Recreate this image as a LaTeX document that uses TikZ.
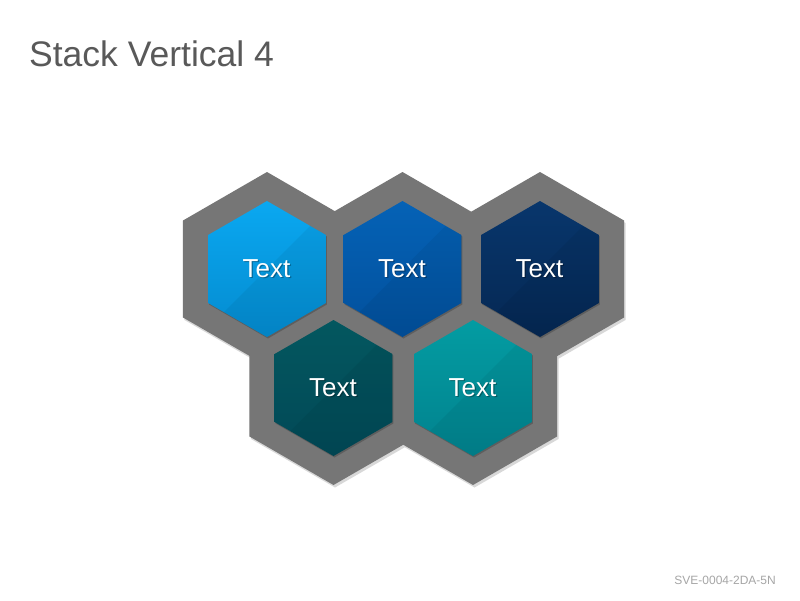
\documentclass[tikz,border=0pt]{standalone}
\usepackage{fontspec}
\setmainfont{Liberation Sans}
\usetikzlibrary{calc}
\definecolor{titlegray}{HTML}{595959}
\definecolor{footgray}{HTML}{A6A6A6}
\definecolor{framegray}{HTML}{767676}
\definecolor{frameshadow}{HTML}{D8D8D8}
\definecolor{innershadow}{HTML}{5E5E5E}
\definecolor{hAt}{HTML}{0AA8F1}\definecolor{hAb}{HTML}{048BCF}
\definecolor{hBt}{HTML}{0562B6}\definecolor{hBb}{HTML}{02509C}
\definecolor{hCt}{HTML}{08366C}\definecolor{hCb}{HTML}{052853}
\definecolor{hDt}{HTML}{03575F}\definecolor{hDb}{HTML}{024957}
\definecolor{hEt}{HTML}{039CA2}\definecolor{hEb}{HTML}{02828E}
\newcommand{\hexat}[3]{([shift={(#1,#2)}]90:#3) -- ([shift={(#1,#2)}]30:#3) -- ([shift={(#1,#2)}]-30:#3) -- ([shift={(#1,#2)}]-90:#3) -- ([shift={(#1,#2)}]-150:#3) -- ([shift={(#1,#2)}]150:#3) -- cycle}
\tikzset{
  hexlabel/.style={text=white, font=\fontsize{26}{30}\selectfont, inner sep=0pt},
  hexlabelshadow/.style={text=black, opacity=0.3, font=\fontsize{26}{30}\selectfont, inner sep=0pt},
}
\newcommand{\innerhex}[4]{%
  \fill[innershadow] \hexat{#1+1}{#2+1.5}{68};
  \shade[top color=#3, bottom color=#4] \hexat{#1}{#2}{68};
  \begin{scope}
    \clip \hexat{#1}{#2}{68};
    \fill[black, opacity=0.05] (#1-80,#2+80) -- (#1+80,#2-80) -- (#1+80,#2+80) -- cycle;
  \end{scope}
}
\begin{document}
\begin{tikzpicture}[x=1pt,y=-1pt]
\useasboundingbox (0,0) rectangle (800,600);
\fill[white] (0,0) rectangle (800,600);
% title and footer
\node[anchor=base west, text=titlegray, font=\fontsize{35.5}{40}\selectfont, inner sep=0pt] (title) at (29,66) {Stack Vertical 4};
\node[anchor=base east, text=footgray, font=\fontsize{12}{14}\selectfont, inner sep=0pt] (code) at (776,584) {SVE-0004-2DA-5N};
% frame shadow
\foreach \cx/\cy in {267/269, 402.5/269, 540/269, 333.5/388, 473/388}{
  \fill[frameshadow] \hexat{\cx+1.5}{\cy+2.5}{97};
}
% gray frame
\foreach \cx/\cy in {267/269, 402.5/269, 540/269, 333.5/388, 473/388}{
  \fill[framegray] \hexat{\cx}{\cy}{97};
}
% inner hexagons
\innerhex{267}{269}{hAt}{hAb}
\innerhex{402.5}{269}{hBt}{hBb}
\innerhex{540}{269}{hCt}{hCb}
\innerhex{333.5}{388}{hDt}{hDb}
\innerhex{473}{388}{hEt}{hEb}
% labels
\node[hexlabelshadow] (s1) at (267.8,269.8) {Text};
\node[hexlabel] (t1) at (266.5,268.5) {Text};
\node[hexlabelshadow] (s2) at (403.3,269.8) {Text};
\node[hexlabel] (t2) at (402,268.5) {Text};
\node[hexlabelshadow] (s3) at (540.8,269.8) {Text};
\node[hexlabel] (t3) at (539.5,268.5) {Text};
\node[hexlabelshadow] (s4) at (334.3,388.8) {Text};
\node[hexlabel] (t4) at (333,387.5) {Text};
\node[hexlabelshadow] (s5) at (473.8,388.8) {Text};
\node[hexlabel] (t5) at (472.5,387.5) {Text};
\end{tikzpicture}
\end{document}
